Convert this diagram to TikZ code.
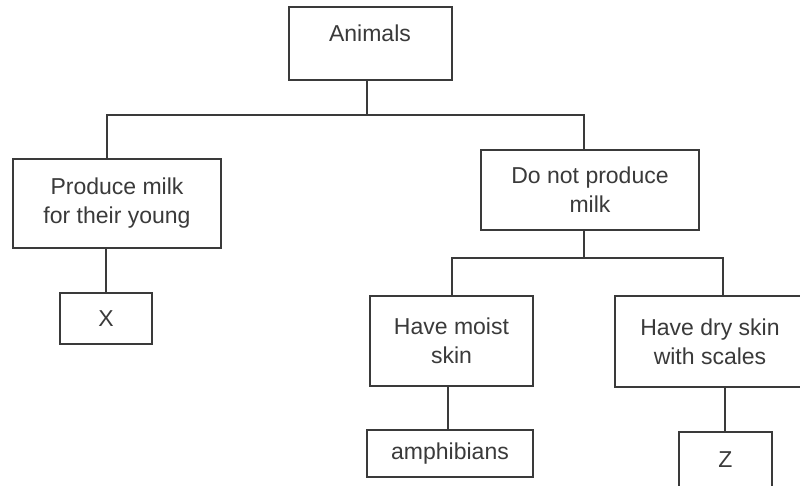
\documentclass[tikz,border=0pt]{standalone}
\usepackage{fontspec}
\setmainfont{Liberation Sans}
\usetikzlibrary{calc}
\definecolor{ink}{HTML}{3A3A3A}
\begin{document}
\begin{tikzpicture}[x=1pt,y=-1pt,
  box/.style={draw=ink,line width=1.6pt,inner sep=0pt,align=center,text=ink,
    font=\fontsize{23}{29}\selectfont},
  link/.style={draw=ink,line width=1.6pt}]
\useasboundingbox (0,0) rectangle (800,485);
\clip (0,0) rectangle (800,485);
\fill[white] (0,0) rectangle (800,485);
% boxes
\node[box,minimum width=163pt,minimum height=73pt] (animals) at (370.5,43.5) {};
\node[text=ink,font=\fontsize{23}{29}\selectfont] (animalst) at (370,33) {Animals};
\node[box,minimum width=208pt,minimum height=89pt] (milk) at (117,203.5) {Produce milk\\for their young};
\node[box,minimum width=92pt,minimum height=51pt] (x) at (106,318.5) {X};
\node[box,minimum width=218pt,minimum height=80pt] (nomilk) at (590,190) {Do not produce\\milk};
\node[box,minimum width=163pt,minimum height=90pt] (moist) at (451.5,341) {Have moist\\skin};
\node[box,minimum width=190pt,minimum height=91pt] (dry) at (710,341.5) {Have dry skin\\with scales};
\node[box,minimum width=166pt,minimum height=47pt] (amph) at (450,453.5) {amphibians};
\node[box,minimum width=93pt,minimum height=56pt] (z) at (725.5,460) {Z};
% junction coordinates
\coordinate (j1) at (367,115);
\coordinate (j2) at (584,258);
\coordinate (milktop) at (107,159);
\coordinate (nomilktop) at (584,150);
\coordinate (nomilkbot) at (584,230);
\coordinate (moisttop) at (452,296);
\coordinate (drytop) at (723,296);
\coordinate (drybot) at (725,387);
\coordinate (milkbot) at (106,248);
\coordinate (moistbot) at (448,386);
% connectors
\draw[link] (animals.south -| j1) -- (j1);
\draw[link] (milktop) |- (j1) -| (nomilktop);
\draw[link] (nomilkbot) -- (j2);
\draw[link] (moisttop) |- (j2) -| (drytop);
\draw[link] (milkbot) -- (x.north);
\draw[link] (moistbot) -- (moistbot |- amph.north);
\draw[link] (drybot) -- (drybot |- z.north);
\end{tikzpicture}
\end{document}
